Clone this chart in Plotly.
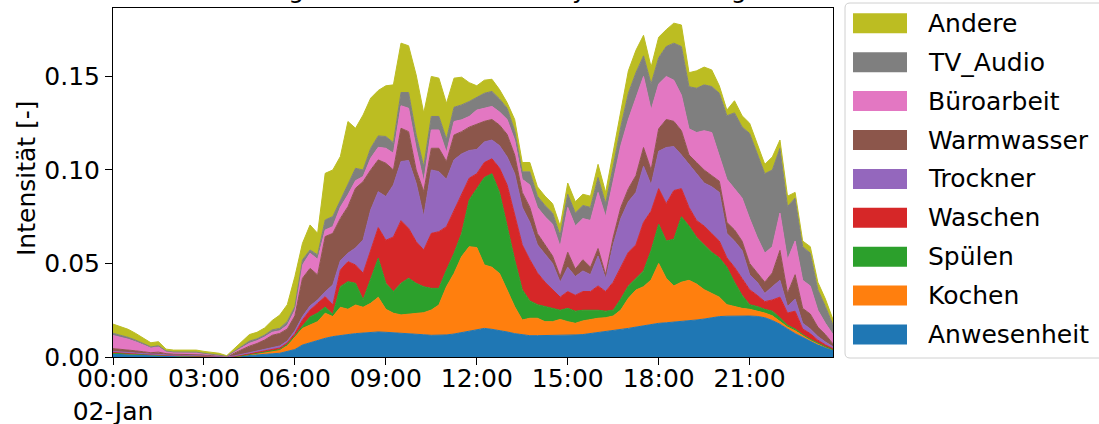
import numpy as np
import pandas as pd
import plotly.graph_objects as go

# ---------------- data (values in units of 1e-3) ----------------
times = pd.date_range("2017-01-02 00:00", periods=96, freq="15min")
tick_labels = ["00:00<br>02-Jan", "03:00", "06:00", "09:00", "12:00",
               "15:00", "18:00", "21:00"]
y_tick_labels = ["0.00", "0.05", "0.10", "0.15"]
y_tick_values = [0.0, 0.05, 0.10, 0.15]

series_names = ["Anwesenheit", "Kochen", "Spülen", "Waschen", "Trockner",
                "Warmwasser", "Büroarbeit", "TV_Audio", "Andere"]
colors = ["#1f77b4", "#ff7f0e", "#2ca02c", "#d62728", "#9467bd",
          "#8c564b", "#e377c2", "#7f7f7f", "#bcbd22"]

anwesenheit = [2.0,1.8,1.6,1.4,1.2,1.0,1.0,0.8,0.6,0.6,0.6,0.5,0.4,0.3,0.2,0.1,0.3,0.5,0.9,1.2,1.4,1.7,2.0,2.8,
               4.0,6.4,7.7,9.1,10.0,10.9,11.6,12.0,12.5,12.8,13.2,13.4,13.2,13.0,12.8,12.7,12.3,11.9,11.6,11.6,11.8,12.3,13.0,13.9,
               14.8,15.3,14.8,14.2,13.4,12.5,11.8,11.4,11.4,11.4,11.4,11.4,11.6,11.8,12.0,12.5,13.0,13.6,14.0,14.4,15.3,16.0,16.8,17.6,
               18.0,18.3,18.6,18.9,19.3,19.8,20.3,21.0,21.6,21.8,21.9,21.9,21.9,21.7,21.0,19.5,17.5,15.0,12.5,10.5,8.5,6.5,5.0,3.7]
kochen = [0,0,0,0,0,0,0,0,0,0,0,0,0,0,0,0,0,0.2,0.4,0.8,1.2,1.6,1.7,3.2,
          6.5,8.9,9.4,9.8,13.4,10.7,15.0,13.5,15.3,13.8,15.5,18.5,12.3,10.4,9.7,10.3,11.1,11.8,13.5,16.2,25.8,32.4,40.7,45.1,
          43.7,33.9,33.2,30.4,22.4,14.4,8.0,9.3,9.3,7.5,7.5,8.7,7.3,6.2,7.3,7.6,7.7,7.4,7.9,10.7,16.1,19.8,20.8,23.6,
          32.0,23.7,19.4,21.1,21.7,19.2,15.7,13.0,10.4,6.2,5.1,4.1,3.6,2.8,2.5,2.5,1.5,1.0,1.5,1.0,0.5,0.5,0.3,0.2]
spuelen = [0,0,0,0,0,0,0,0,0,0,0,0,0,0,0,0,0,0,0.1,0.2,0.3,0.3,0.3,0.8,
           0.8,1.3,4.3,4.6,3.3,1.2,11.0,14.8,11.6,4.0,12.5,20.9,13.9,11.6,16.9,19.1,16.0,13.9,11.6,8.9,8.9,10.8,12.4,25.0,
           31.5,46.8,50.0,43.4,34.2,25.1,16.2,9.3,7.3,8.1,7.1,4.9,7.1,6.5,5.7,4.9,4.3,3.5,3.1,5.9,6.6,6.2,8.4,15.8,
           21.0,20.0,25.0,35.0,29.0,25.0,24.0,22.0,21.0,20.0,13.0,7.0,2.5,2.5,2.0,2.5,2.0,1.0,1.0,0.5,0.5,0.3,0.2,0.1]
waschen = [0.5,0.5,0.4,0.3,0.3,0.2,0.3,0.2,0.2,0.2,0.2,0.2,0.1,0.1,0.1,0,0.1,0.2,0.3,0.3,0.4,0.5,0.8,0.8,
           1.2,3.2,3.7,5.2,5.6,5.0,8.9,10.7,9.8,14.2,16.0,16.4,23.0,29.2,33.5,26.7,22.3,19.6,29.4,30.3,23.2,23.1,21.4,11.6,
           8.0,8.0,8.0,13.0,22.0,24.0,24.0,22.0,17.0,13.0,10.0,7.0,9.0,8.5,10.0,10.0,13.0,10.5,15.0,17.0,18.0,18.0,26.0,21.0,
           19.0,20.0,26.0,15.0,10.0,9.0,10.0,10.0,9.0,5.0,8.0,9.0,8.0,6.0,4.1,6.0,11.0,6.5,9.5,3.0,3.0,1.7,1.0,0.5]
trockner = [0.5,0.5,0.4,0.4,0.3,0.3,0.3,0.2,0.2,0.2,0.2,0.2,0.2,0.1,0.1,0,0.2,0.4,0.6,0.7,0.8,1.0,1.1,1.0,
            1.5,1.8,2.2,1.8,2.6,10.7,5.0,4.5,9.1,17.8,21.4,19.2,23.4,27.8,31.6,36.2,31.2,17.9,33.9,32.1,25.3,26.8,21.1,14.8,
            13.0,11.0,10.0,12.0,15.0,22.0,20.0,20.0,15.0,15.0,14.0,8.0,13.0,10.0,11.0,9.0,16.0,7.0,20.0,26.0,27.0,28.0,30.0,14.0,
            20.0,30.0,23.5,18.0,23.0,25.0,23.0,25.0,26.0,13.0,14.0,15.0,8.0,7.0,4.4,7.1,9.0,3.5,6.5,3.0,2.5,2.0,1.5,1.0]
warmwasser = [1.5,1.4,1.3,1.2,1.0,0.8,1.0,0.6,0.5,0.5,0.5,0.5,0.4,0.3,0.3,0.1,1.5,2.8,3.5,4.0,5.0,6.5,6.7,6.4,
              8.0,20.5,20.1,13.4,29.5,27.6,22.6,24.9,31.9,31.2,21.4,17.0,17.8,8.0,17.8,15.5,7.1,13.3,11.6,12.5,9.5,13.3,11.9,12.5,
              13.5,11.0,11.0,11.0,12.0,10.0,8.0,8.0,6.0,5.0,4.0,3.0,8.0,4.0,6.0,4.0,4.0,2.0,4.0,6.0,7.0,9.0,10.0,8.0,
              12.0,15.0,13.5,13.0,5.0,6.0,7.0,6.0,6.0,6.0,6.0,5.0,6.0,5.0,6.0,7.4,16.0,7.0,13.0,8.0,8.0,5.0,4.0,1.5]
bueroarbeit = [7.0,6.5,5.8,4.8,3.6,2.5,2.8,1.0,0.8,0.8,0.8,0.8,0.6,0.5,0.4,0.1,0.5,0.8,1.5,1.5,1.6,1.6,1.4,2.0,
               3.0,7.1,8.1,8.3,3.5,3.6,6.0,6.3,4.1,2.7,6.3,6.7,8.0,8.9,12.0,12.5,11.6,5.4,9.8,9.8,4.8,7.2,6.3,5.7,
               7.5,7.0,7.0,7.0,8.0,8.0,7.0,12.0,14.0,15.0,17.0,16.0,24.0,23.0,22.0,25.0,30.0,31.0,31.0,33.0,37.0,42.0,38.0,32.0,
               24.0,23.0,22.0,19.0,14.0,16.0,21.0,23.0,14.0,23.0,22.0,23.0,24.0,19.0,15.5,14.0,20.0,18.0,18.0,15.0,15.0,9.0,6.0,5.0]
tv_audio = [1.2,1.1,1.0,0.9,0.8,0.6,0.6,0.4,0.4,0.4,0.4,0.4,0.3,0.2,0.2,0.1,0.4,0.8,1.2,1.0,1.0,1.3,1.3,2.0,
            2.0,2.7,1.7,2.4,5.4,5.4,3.9,5.3,6.6,3.5,5.3,6.1,6.3,5.7,7.1,8.4,7.1,8.0,7.2,7.2,7.1,7.6,8.0,8.0,
            7.0,8.0,8.0,7.0,6.0,5.0,4.0,7.0,6.0,6.0,6.0,6.0,7.0,7.0,7.0,7.0,8.0,7.0,7.0,10.0,14.0,13.0,11.0,14.0,
            14.0,16.0,19.8,26.0,22.5,23.7,24.5,24.6,33.0,34.0,40.5,38.0,45.5,45.0,42.5,41.0,34.6,28.4,23.0,18.0,17.5,11.0,9.0,5.0]
andere = [4.9,4.6,4.3,3.6,2.8,2.2,2.2,1.0,1.0,1.0,1.0,1.1,1.0,0.8,0.7,0.3,1.5,2.8,3.5,3.5,3.8,5.0,7.1,9.0,
          16.0,8.9,13.4,11.5,24.9,24.9,23.2,33.9,21.4,29.4,26.8,24.3,27.1,30.9,26.4,25.0,32.1,28.6,21.4,20.5,19.2,15.6,14.8,10.1,
          6.0,7.0,6.5,5.0,3.0,6.0,5.0,5.0,5.0,5.0,5.0,5.0,6.0,6.0,6.0,6.0,7.0,6.0,7.0,8.0,12.0,12.0,11.0,9.0,
          11.0,9.0,10.7,11.5,7.5,9.3,9.5,8.9,4.0,3.0,6.5,6.0,5.5,5.0,5.0,7.0,4.4,5.6,3.0,3.0,3.5,4.0,4.0,3.0]

series_values = [anwesenheit, kochen, spuelen, waschen, trockner,
                 warmwasser, bueroarbeit, tv_audio, andere]
for s in series_values:
    assert len(s) == len(times)

title_text = "Nutzungsintensität der Activity am Werktag"
y_title = "Intensität [-]"
FONT = "DejaVu Sans"
FS = 25

# ---------------- figure ----------------
fig = go.Figure()
for name, vals, col in zip(series_names, series_values, colors):
    fig.add_trace(go.Scatter(
        x=times, y=np.array(vals) / 1000.0, name=name,
        mode="lines", stackgroup="one",
        line=dict(color=col, width=1), fillcolor=col,
        showlegend=False, hoverinfo="skip"))

W, H = 1099, 424
L, R, T, B = 113, 833, 8, 357
pw, ph = R - L, B - T


def px(xw):          # pixel x -> paper x
    return (xw - L) / pw


def py(yw):          # pixel y -> paper y
    return (B - yw) / ph


shapes = []
annotations = []

# legend frame (rounded)
fx0, fx1, fy0, fy1 = 845, 1112, 3, 358
r = 5
rx, ry = r / pw, r / ph
X0, X1, Y0, Y1 = px(fx0), px(fx1), py(fy1), py(fy0)
path = (f"M{X0+rx},{Y1} L{X1-rx},{Y1} Q{X1},{Y1} {X1},{Y1-ry} "
        f"L{X1},{Y0+ry} Q{X1},{Y0} {X1-rx},{Y0} L{X0+rx},{Y0} "
        f"Q{X0},{Y0} {X0},{Y0+ry} L{X0},{Y1-ry} Q{X0},{Y1} {X0+rx},{Y1} Z")
shapes.append(dict(type="path", xref="paper", yref="paper", path=path,
                   line=dict(color="#d0d0d0", width=1), fillcolor="white",
                   layer="above"))

legend_order = list(reversed(range(len(series_names))))
for k, idx in enumerate(legend_order):
    cy = 23.3 + 38.9 * k
    shapes.append(dict(type="rect", xref="paper", yref="paper",
                       x0=px(853), x1=px(907), y0=py(cy + 10), y1=py(cy - 10),
                       fillcolor=colors[idx], line=dict(width=0), layer="above"))
    annotations.append(dict(xref="paper", yref="paper", x=px(926), y=py(cy),
                            xanchor="left", yanchor="middle", showarrow=False,
                            text=series_names[idx],
                            font=dict(family=FONT, size=FS, color="black")))

# title (mostly above the page edge, as in reference)
annotations.append(dict(xref="paper", yref="paper", x=0.5, y=py(6),
                        xanchor="center", yanchor="bottom", showarrow=False,
                        text=title_text,
                        font=dict(family=FONT, size=FS, color="black")))

# y axis title
annotations.append(dict(xref="paper", yref="paper", x=px(26), y=py(178),
                        xanchor="center", yanchor="middle", showarrow=False,
                        textangle=-90, text=y_title,
                        font=dict(family=FONT, size=FS, color="black")))

fig.update_layout(
    width=W, height=H,
    margin=dict(l=L, r=W - R, t=T, b=H - B, pad=0, autoexpand=False),
    paper_bgcolor="white", plot_bgcolor="white",
    font=dict(family=FONT, size=FS, color="black"),
    shapes=shapes, annotations=annotations,
    xaxis=dict(range=[times[0], times[-1]], automargin=False,
               tickvals=list(times[::12]), ticktext=tick_labels,
               ticks="outside", ticklen=7, tickwidth=1, tickcolor="black",
               ticklabelstandoff=-8,
               showline=True, linecolor="black", linewidth=1, mirror=True,
               showgrid=False, zeroline=False,
               tickfont=dict(family=FONT, size=FS, color="black")),
    yaxis=dict(range=[0, 0.1866], tickvals=y_tick_values, ticktext=y_tick_labels,
               automargin=False,
               ticks="outside", ticklen=7, tickwidth=1, tickcolor="black",
               showline=True, linecolor="black", linewidth=1, mirror=True,
               showgrid=False, zeroline=False,
               tickfont=dict(family=FONT, size=FS, color="black")),
)

fig.write_html("out.html", config={"displayModeBar": False},
               post_script="document.body.style.margin='0';document.body.style.padding='0';")
